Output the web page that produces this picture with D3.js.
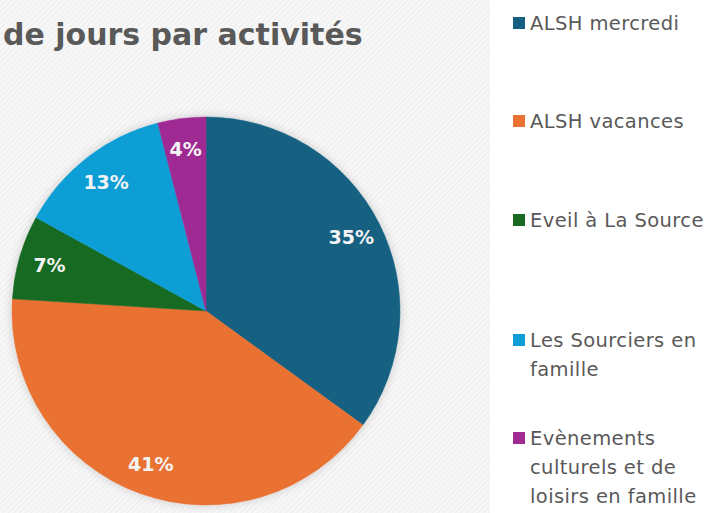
<!DOCTYPE html>
<html>
<head>
<meta charset="utf-8">
<script src="https://cdn.jsdelivr.net/npm/d3@7"></script>
<style>
  html, body { margin: 0; padding: 0; background: #ffffff; }
  svg { display: block; }
</style>
</head>
<body>
<svg id="chart"></svg>
<script>
// data
const categories = ['ALSH mercredi', 'ALSH vacances', 'Eveil à La Source', 'Les Sourciers en famille', 'Evènements culturels et de loisirs en famille'];
const values = [35, 41, 7, 13, 4];
const legendLines = [['ALSH mercredi'], ['ALSH vacances'], ['Eveil à La Source'], ['Les Sourciers en', 'famille'], ['Evènements', 'culturels et de', 'loisirs en famille']];
const titleText = 'de jours par activités';

const colors = ['#156082', '#E97132', '#196B24', '#0F9ED5', '#A02B93'];

const width = 707, height = 513;
const cx = 206, cy = 311, radius = 194;
const legendBaselines = [30, 128, 227, 347, 445];  // first line of each entry
const lineHeight = 29;

const svg = d3.select('#chart')
  .attr('width', width)
  .attr('height', height);

const defs = svg.append('defs');

// faint diagonal hatching of the plot area
const pattern = defs.append('pattern')
  .attr('id', 'hatch')
  .attr('patternUnits', 'userSpaceOnUse')
  .attr('width', 4)
  .attr('height', 4)
  .attr('patternTransform', 'rotate(45)');
pattern.append('rect').attr('width', 4).attr('height', 4).attr('fill', '#f7f7f7');
pattern.append('line')
  .attr('x1', 0).attr('y1', 0).attr('x2', 0).attr('y2', 4)
  .attr('stroke', '#ebebeb').attr('stroke-width', 1.5);

const shadow = defs.append('filter')
  .attr('id', 'shadow')
  .attr('x', '-20%').attr('y', '-20%')
  .attr('width', '140%').attr('height', '140%');
shadow.append('feDropShadow')
  .attr('dx', 0).attr('dy', 0)
  .attr('stdDeviation', 5)
  .attr('flood-color', '#000')
  .attr('flood-opacity', 0.18);

svg.append('rect')
  .attr('width', 490).attr('height', height)
  .attr('fill', 'url(#hatch)');

svg.append('rect')
  .attr('x', 490).attr('width', width - 490).attr('height', height)
  .attr('fill', '#ffffff');

// title (cut off at the left in the reference)
svg.append('text')
  .attr('x', 3)
  .attr('y', 45)
  .style('font-family', '"DejaVu Sans", sans-serif')
  .style('font-weight', 'bold')
  .style('font-size', '30px')
  .attr('fill', '#595959')
  .text(titleText);

const color = d3.scaleOrdinal().domain(categories).range(colors);

const pie = d3.pie().sort(null).value(d => d.value);
const arcs = pie(categories.map((c, i) => ({ name: c, value: values[i] })));

const arc = d3.arc().innerRadius(0).outerRadius(radius);
const labelArc = d3.arc().innerRadius(radius * 0.84).outerRadius(radius * 0.84);

const g = svg.append('g')
  .attr('transform', 'translate(' + cx + ',' + cy + ')');

g.append('g')
  .attr('filter', 'url(#shadow)')
  .selectAll('path')
  .data(arcs)
  .enter().append('path')
  .attr('d', arc)
  .attr('fill', d => color(d.data.name))
  .attr('stroke', d => color(d.data.name))
  .attr('stroke-width', 0.5);

const total = d3.sum(values);
g.selectAll('text.label')
  .data(arcs)
  .enter().append('text')
  .attr('class', 'label')
  .attr('transform', d => 'translate(' + labelArc.centroid(d) + ')')
  .attr('text-anchor', 'middle')
  .attr('dy', '0.36em')
  .style('font-family', '"DejaVu Sans", sans-serif')
  .style('font-weight', 'bold')
  .style('font-size', '19px')
  .attr('fill', '#f4f4f4')
  .text(d => Math.round(d.data.value / total * 100) + '%');

// legend
const legend = svg.append('g').attr('class', 'legend');
const items = legend.selectAll('g')
  .data(categories)
  .enter().append('g')
  .attr('transform', (d, i) => 'translate(513,' + legendBaselines[i] + ')');

items.append('rect')
  .attr('x', 0).attr('y', -13)
  .attr('width', 12).attr('height', 12)
  .attr('fill', d => color(d));

items.append('text')
  .style('font-family', '"DejaVu Sans", sans-serif')
  .style('font-size', '19.5px')
  .style('letter-spacing', '0.4px')
  .attr('fill', '#595959')
  .each(function(d, i) {
    const t = d3.select(this);
    legendLines[i].forEach((line, j) => {
      t.append('tspan')
        .attr('x', 17)
        .attr('y', j * lineHeight)
        .text(line);
    });
  });
</script>
</body>
</html>
